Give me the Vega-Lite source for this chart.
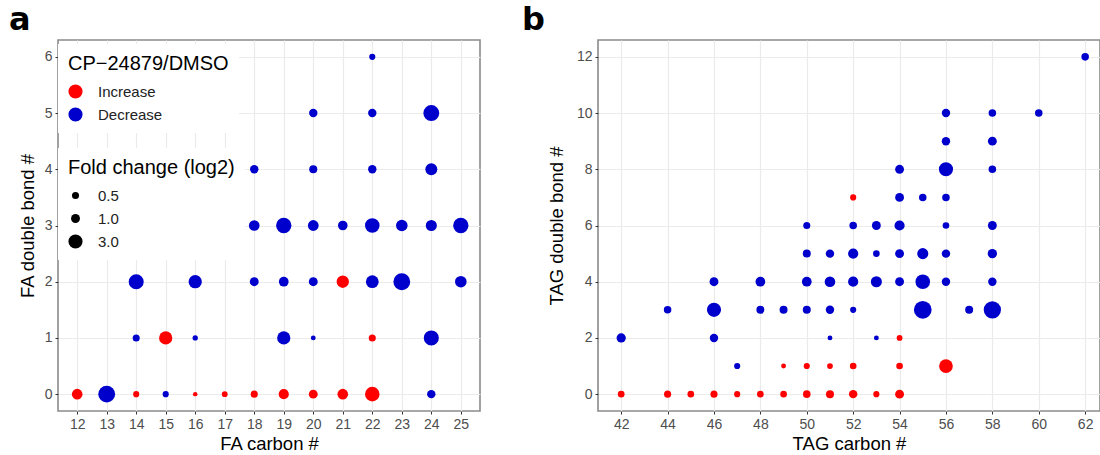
{
  "$schema": "https://vega.github.io/schema/vega-lite/v6.json",
  "padding": {"left": 8, "top": 3, "right": 0, "bottom": 2},
  "spacing": 40,
  "config": {
    "font": "Liberation Sans",
    "view": {"stroke": "#8A8A8A", "strokeWidth": 1.6},
    "axis": {
      "domain": false,
      "grid": true,
      "gridColor": "#EBEBEB",
      "gridWidth": 1.2,
      "tickColor": "#333333",
      "tickSize": 3,
      "labelPadding": 3,
      "labelColor": "#4D4D4D",
      "labelFontSize": 14,
      "titleColor": "#000000",
      "titleFontSize": 18.5,
      "titleFontWeight": "normal"
    },
    "legend": {
      "fillColor": "white",
      "padding": 10,
      "titleFontSize": 20,
      "titleFontWeight": "normal",
      "titleColor": "#000000",
      "titlePadding": 10,
      "titleLimit": 400,
      "labelFontSize": 15,
      "labelColor": "#222222",
      "labelOffset": 15,
      "rowPadding": 7,
      "symbolType": "circle",
      "symbolStrokeWidth": 0,
      "symbolOpacity": 1
    },
    "title": {
      "anchor": "start",
      "frame": "bounds",
      "fontSize": 32,
      "fontWeight": "bold",
      "font": "DejaVu Sans",
      "color": "#000000",
      "baseline": "alphabetic",
      "offset": 3
    }
  },
  "datasets": {
    "fa": [
      {"c": 12, "d": 0, "dir": "Increase", "fc": 1.55},
      {"c": 13, "d": 0, "dir": "Decrease", "fc": 4.4},
      {"c": 14, "d": 0, "dir": "Increase", "fc": 0.3},
      {"c": 15, "d": 0, "dir": "Decrease", "fc": 0.3},
      {"c": 16, "d": 0, "dir": "Increase", "fc": 0.0},
      {"c": 17, "d": 0, "dir": "Increase", "fc": 0.22},
      {"c": 18, "d": 0, "dir": "Increase", "fc": 0.5},
      {"c": 19, "d": 0, "dir": "Increase", "fc": 1.4},
      {"c": 20, "d": 0, "dir": "Increase", "fc": 0.98},
      {"c": 21, "d": 0, "dir": "Increase", "fc": 1.55},
      {"c": 22, "d": 0, "dir": "Increase", "fc": 3.2},
      {"c": 24, "d": 0, "dir": "Decrease", "fc": 0.85},
      {"c": 14, "d": 1, "dir": "Decrease", "fc": 0.5},
      {"c": 15, "d": 1, "dir": "Increase", "fc": 2.6},
      {"c": 16, "d": 1, "dir": "Decrease", "fc": 0.13},
      {"c": 19, "d": 1, "dir": "Decrease", "fc": 2.6},
      {"c": 20, "d": 1, "dir": "Decrease", "fc": 0.06},
      {"c": 22, "d": 1, "dir": "Increase", "fc": 0.5},
      {"c": 24, "d": 1, "dir": "Decrease", "fc": 3.45},
      {"c": 14, "d": 2, "dir": "Decrease", "fc": 3.45},
      {"c": 16, "d": 2, "dir": "Decrease", "fc": 2.6},
      {"c": 18, "d": 2, "dir": "Decrease", "fc": 0.98},
      {"c": 19, "d": 2, "dir": "Decrease", "fc": 1.25},
      {"c": 20, "d": 2, "dir": "Decrease", "fc": 0.98},
      {"c": 21, "d": 2, "dir": "Increase", "fc": 2.2},
      {"c": 22, "d": 2, "dir": "Decrease", "fc": 2.4},
      {"c": 23, "d": 2, "dir": "Decrease", "fc": 4.4},
      {"c": 25, "d": 2, "dir": "Decrease", "fc": 1.9},
      {"c": 18, "d": 3, "dir": "Decrease", "fc": 1.55},
      {"c": 19, "d": 3, "dir": "Decrease", "fc": 3.6},
      {"c": 20, "d": 3, "dir": "Decrease", "fc": 1.6},
      {"c": 21, "d": 3, "dir": "Decrease", "fc": 1.2},
      {"c": 22, "d": 3, "dir": "Decrease", "fc": 3.2},
      {"c": 23, "d": 3, "dir": "Decrease", "fc": 1.9},
      {"c": 24, "d": 3, "dir": "Decrease", "fc": 1.7},
      {"c": 25, "d": 3, "dir": "Decrease", "fc": 3.6},
      {"c": 18, "d": 4, "dir": "Decrease", "fc": 0.85},
      {"c": 20, "d": 4, "dir": "Decrease", "fc": 0.75},
      {"c": 22, "d": 4, "dir": "Decrease", "fc": 0.85},
      {"c": 24, "d": 4, "dir": "Decrease", "fc": 2.05},
      {"c": 20, "d": 5, "dir": "Decrease", "fc": 0.85},
      {"c": 22, "d": 5, "dir": "Decrease", "fc": 0.85},
      {"c": 24, "d": 5, "dir": "Decrease", "fc": 3.9},
      {"c": 22, "d": 6, "dir": "Decrease", "fc": 0.3}
    ],
    "tag": [
      {"c": 42, "d": 0, "dir": "Increase", "fc": 0.4},
      {"c": 44, "d": 0, "dir": "Increase", "fc": 0.5},
      {"c": 45, "d": 0, "dir": "Increase", "fc": 0.4},
      {"c": 46, "d": 0, "dir": "Increase", "fc": 0.5},
      {"c": 47, "d": 0, "dir": "Increase", "fc": 0.3},
      {"c": 48, "d": 0, "dir": "Increase", "fc": 0.4},
      {"c": 49, "d": 0, "dir": "Increase", "fc": 0.4},
      {"c": 50, "d": 0, "dir": "Increase", "fc": 0.61},
      {"c": 51, "d": 0, "dir": "Increase", "fc": 0.73},
      {"c": 52, "d": 0, "dir": "Increase", "fc": 0.85},
      {"c": 53, "d": 0, "dir": "Increase", "fc": 0.3},
      {"c": 54, "d": 0, "dir": "Increase", "fc": 0.98},
      {"c": 47, "d": 1, "dir": "Decrease", "fc": 0.3},
      {"c": 49, "d": 1, "dir": "Increase", "fc": 0.06},
      {"c": 50, "d": 1, "dir": "Increase", "fc": 0.3},
      {"c": 51, "d": 1, "dir": "Increase", "fc": 0.22},
      {"c": 52, "d": 1, "dir": "Increase", "fc": 0.4},
      {"c": 54, "d": 1, "dir": "Increase", "fc": 0.4},
      {"c": 56, "d": 1, "dir": "Increase", "fc": 2.8},
      {"c": 42, "d": 2, "dir": "Decrease", "fc": 1.11},
      {"c": 46, "d": 2, "dir": "Decrease", "fc": 0.85},
      {"c": 51, "d": 2, "dir": "Decrease", "fc": 0.06},
      {"c": 53, "d": 2, "dir": "Decrease", "fc": 0.06},
      {"c": 54, "d": 2, "dir": "Increase", "fc": 0.22},
      {"c": 44, "d": 3, "dir": "Decrease", "fc": 0.61},
      {"c": 46, "d": 3, "dir": "Decrease", "fc": 3.0},
      {"c": 48, "d": 3, "dir": "Decrease", "fc": 0.73},
      {"c": 49, "d": 3, "dir": "Decrease", "fc": 0.73},
      {"c": 50, "d": 3, "dir": "Decrease", "fc": 0.73},
      {"c": 51, "d": 3, "dir": "Decrease", "fc": 0.85},
      {"c": 52, "d": 3, "dir": "Decrease", "fc": 0.3},
      {"c": 55, "d": 3, "dir": "Decrease", "fc": 4.9},
      {"c": 57, "d": 3, "dir": "Decrease", "fc": 0.73},
      {"c": 58, "d": 3, "dir": "Decrease", "fc": 4.64},
      {"c": 46, "d": 4, "dir": "Decrease", "fc": 0.98},
      {"c": 48, "d": 4, "dir": "Decrease", "fc": 1.25},
      {"c": 50, "d": 4, "dir": "Decrease", "fc": 1.25},
      {"c": 51, "d": 4, "dir": "Decrease", "fc": 1.55},
      {"c": 52, "d": 4, "dir": "Decrease", "fc": 1.4},
      {"c": 53, "d": 4, "dir": "Decrease", "fc": 1.71},
      {"c": 54, "d": 4, "dir": "Decrease", "fc": 0.98},
      {"c": 55, "d": 4, "dir": "Decrease", "fc": 3.23},
      {"c": 56, "d": 4, "dir": "Decrease", "fc": 0.85},
      {"c": 58, "d": 4, "dir": "Decrease", "fc": 0.85},
      {"c": 50, "d": 5, "dir": "Decrease", "fc": 0.73},
      {"c": 51, "d": 5, "dir": "Decrease", "fc": 0.85},
      {"c": 52, "d": 5, "dir": "Decrease", "fc": 1.4},
      {"c": 53, "d": 5, "dir": "Decrease", "fc": 0.4},
      {"c": 54, "d": 5, "dir": "Decrease", "fc": 0.98},
      {"c": 55, "d": 5, "dir": "Decrease", "fc": 1.71},
      {"c": 56, "d": 5, "dir": "Decrease", "fc": 0.85},
      {"c": 58, "d": 5, "dir": "Decrease", "fc": 1.11},
      {"c": 50, "d": 6, "dir": "Decrease", "fc": 0.5},
      {"c": 52, "d": 6, "dir": "Decrease", "fc": 0.61},
      {"c": 53, "d": 6, "dir": "Decrease", "fc": 0.98},
      {"c": 54, "d": 6, "dir": "Decrease", "fc": 1.4},
      {"c": 56, "d": 6, "dir": "Decrease", "fc": 0.4},
      {"c": 58, "d": 6, "dir": "Decrease", "fc": 0.98},
      {"c": 52, "d": 7, "dir": "Increase", "fc": 0.3},
      {"c": 54, "d": 7, "dir": "Decrease", "fc": 0.98},
      {"c": 55, "d": 7, "dir": "Decrease", "fc": 0.61},
      {"c": 56, "d": 7, "dir": "Decrease", "fc": 0.61},
      {"c": 54, "d": 8, "dir": "Decrease", "fc": 0.98},
      {"c": 56, "d": 8, "dir": "Decrease", "fc": 3.0},
      {"c": 58, "d": 8, "dir": "Decrease", "fc": 0.61},
      {"c": 56, "d": 9, "dir": "Decrease", "fc": 0.85},
      {"c": 58, "d": 9, "dir": "Decrease", "fc": 0.98},
      {"c": 56, "d": 10, "dir": "Decrease", "fc": 0.85},
      {"c": 58, "d": 10, "dir": "Decrease", "fc": 0.61},
      {"c": 60, "d": 10, "dir": "Decrease", "fc": 0.61},
      {"c": 62, "d": 12, "dir": "Decrease", "fc": 0.61}
    ]
  },
  "hconcat": [
    {
      "width": 422,
      "height": 371,
      "title": {"text": "a", "dx": -9},
      "data": {"name": "fa"},
      "mark": {"type": "circle", "opacity": 1},
      "encoding": {
        "x": {
          "field": "c", "type": "quantitative",
          "scale": {"domain": [11.35, 25.65], "nice": false, "zero": false},
          "axis": {"title": "FA carbon #", "values": [12, 13, 14, 15, 16, 17, 18, 19, 20, 21, 22, 23, 24, 25], "format": "d", "minExtent": 22, "maxExtent": 22, "titlePadding": 1}
        },
        "y": {
          "field": "d", "type": "quantitative",
          "scale": {"domain": [-0.3, 6.3], "nice": false, "zero": false},
          "axis": {"title": "FA double bond #", "values": [0, 1, 2, 3, 4, 5, 6], "format": "d", "minExtent": 14, "maxExtent": 14, "titlePadding": 7}
        },
        "color": {
          "field": "dir", "type": "nominal",
          "scale": {"domain": ["Increase", "Decrease"], "range": ["#FF0000", "#0000CD"]},
          "legend": {"title": "CP−24879/DMSO", "orient": "none", "legendX": 0, "legendY": 4, "symbolSize": 200}
        },
        "size": {
          "field": "fc", "type": "quantitative",
          "scale": {"domain": [0.5, 3], "range": [50, 200]},
          "legend": {"title": "Fold change (log2)", "values": [0.5, 1, 3], "format": ".1f", "orient": "none", "legendX": 0, "legendY": 108, "symbolFillColor": "black"}
        }
      }
    },
    {
      "width": 502,
      "height": 371,
      "title": {"text": "b", "dx": -25},
      "data": {"name": "tag"},
      "mark": {"type": "circle", "opacity": 1},
      "encoding": {
        "x": {
          "field": "c", "type": "quantitative",
          "scale": {"domain": [41, 62.64], "nice": false, "zero": false},
          "axis": {"title": "TAG carbon #", "values": [42, 44, 46, 48, 50, 52, 54, 56, 58, 60, 62], "format": "d", "minExtent": 22, "maxExtent": 22, "titlePadding": 1}
        },
        "y": {
          "field": "d", "type": "quantitative",
          "scale": {"domain": [-0.6, 12.6], "nice": false, "zero": false},
          "axis": {"title": "TAG double bond #", "values": [0, 2, 4, 6, 8, 10, 12], "format": "d", "minExtent": 22, "maxExtent": 22, "titlePadding": 10}
        },
        "color": {
          "field": "dir", "type": "nominal",
          "scale": {"domain": ["Increase", "Decrease"], "range": ["#FF0000", "#0000CD"]},
          "legend": {"title": "CP−24879/DMSO", "orient": "none", "legendX": 2, "legendY": 6, "symbolSize": 200}
        },
        "size": {
          "field": "fc", "type": "quantitative",
          "scale": {"domain": [0.5, 3], "range": [50, 200]},
          "legend": {"title": "Fold change (log2)", "values": [0.5, 1, 3], "format": ".1f", "orient": "none", "legendX": 2, "legendY": 111, "symbolFillColor": "black"}
        }
      }
    }
  ]
}
